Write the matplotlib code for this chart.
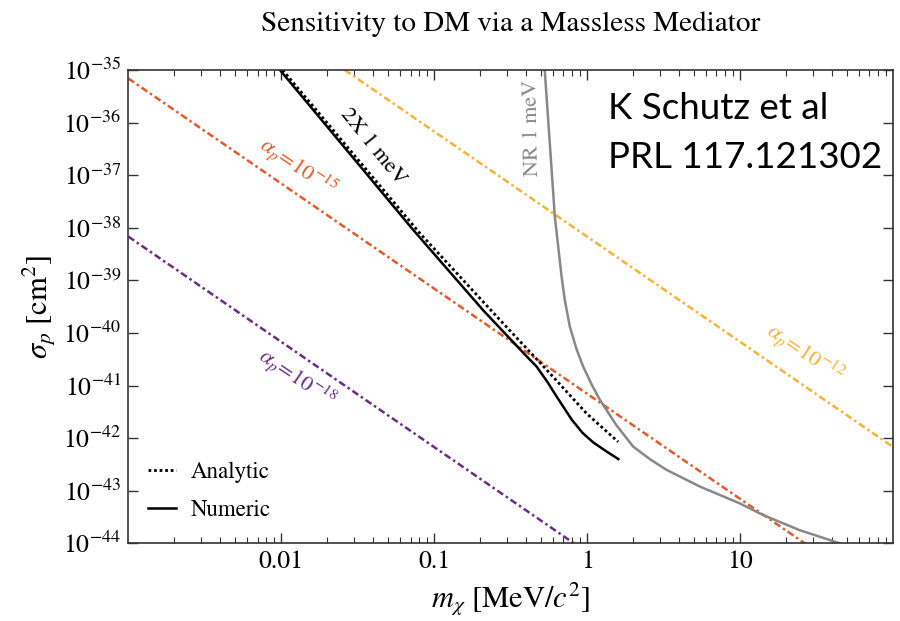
import numpy as np
import matplotlib
matplotlib.use("Agg")
import matplotlib.pyplot as plt
from matplotlib.ticker import LogLocator, NullLocator, FixedLocator, FixedFormatter

plt.rcParams['mathtext.fontset'] = 'stix'
plt.rcParams['font.family'] = ['STIXGeneral', 'DejaVu Serif']

# ---- data ----
# alpha_p reference lines (endpoints)
alpha12_m = [0.026, 100.0]
alpha12_s = [1.0e-35, 6.8e-43]
alpha15_m = [0.001, 26.5]
alpha15_s = [6.9e-36, 1.0e-44]
alpha18_m = [0.001, 0.82]
alpha18_s = [6.8e-39, 1.0e-44]

# 2X 1 meV analytic (dotted)
analytic_m = [0.0102, 0.0805, 0.2685, 0.543, 0.991, 1.596]
analytic_s = [1.0e-35, 7.9e-39, 1.78e-40, 2.0e-41, 2.95e-42, 8.5e-43]

# 2X 1 meV numeric (solid)
numeric_m = [0.0098, 0.0303, 0.0729, 0.209, 0.398, 0.467, 0.55, 0.631, 0.794, 0.933, 1.096, 1.318, 1.60]
numeric_s = [1.0e-35, 1.95e-37, 9.1e-39, 2.7e-40, 3.7e-41, 2.3e-41, 1.17e-41, 6.2e-42, 2.24e-42,
             1.26e-42, 8.3e-43, 5.75e-43, 4.0e-43]

# NR 1 meV (gray)
nr_m = [0.528, 0.570, 0.615, 0.681, 0.714, 0.771, 0.851, 0.942, 1.07, 1.211, 1.55, 2.0, 2.6, 3.30,
        5.46, 9.95, 14.1, 24.5, 44.9]
nr_s = [1.0e-35, 4.07e-37, 1.62e-38, 1.17e-39, 4.27e-40, 1.32e-40, 5.0e-41, 2.29e-41, 1.05e-41,
        5.37e-42, 1.78e-42, 6.9e-43, 3.9e-43, 2.5e-43, 1.2e-43, 5.75e-44, 3.47e-44, 1.78e-44, 1.0e-44]

xticks = [0.01, 0.1, 1, 10]
xticklabels = ['0.01', '0.1', '1', '10']
yticks = [10.0 ** e for e in range(-44, -34)]
yticklabels = [r'$10^{%d}$' % e for e in range(-44, -34)]

# ---- figure ----
fig = plt.figure(figsize=(9, 6.21), dpi=100)
ax = fig.add_axes([0.1426, 0.1251, 0.8496, 0.7622])
ax.set_xscale('log')
ax.set_yscale('log')
ax.set_xlim(1e-3, 100)
ax.set_ylim(1e-44, 1e-35)

dashdot = (0, (2.8, 1.3, 1.0, 1.3))
c_or = '#E35A2A'
c_ye = '#F9B233'
c_pu = '#6A2C86'
c_gr = '#888888'

ax.plot(alpha12_m, alpha12_s, color=c_ye, lw=1.8, linestyle=dashdot)
ax.plot(alpha15_m, alpha15_s, color=c_or, lw=1.8, linestyle=dashdot)
ax.plot(alpha18_m, alpha18_s, color=c_pu, lw=1.8, linestyle=dashdot)
ax.plot(nr_m, nr_s, color=c_gr, lw=1.8, solid_joinstyle='round')
ax.plot(analytic_m, analytic_s, color='black', lw=2.0, linestyle=(0, (1, 1)), label='Analytic')
ax.plot(numeric_m, numeric_s, color='black', lw=1.8, solid_joinstyle='round', label='Numeric')

# tick setup
ax.xaxis.set_major_locator(FixedLocator(xticks))
ax.xaxis.set_major_formatter(FixedFormatter(xticklabels))
ax.xaxis.set_minor_locator(LogLocator(base=10, subs=np.arange(2, 10), numticks=20))
ax.yaxis.set_major_locator(FixedLocator(yticks))
ax.yaxis.set_major_formatter(FixedFormatter(yticklabels))
ax.yaxis.set_minor_locator(NullLocator())
ax.tick_params(which='both', direction='in', top=True, right=True, color='#333333')
ax.tick_params(which='major', length=7, width=1.0, labelsize=18.5, pad=5)
ax.tick_params(which='minor', length=4, width=0.8)
for s in ax.spines.values():
    s.set_color('#333333')
    s.set_linewidth(1.2)

ax.set_xlabel(r'$m_\chi\ [\mathrm{MeV}/c^2]$', fontsize=22, labelpad=5)
ax.set_ylabel(r'$\sigma_p\ [\mathrm{cm}^2]$', fontsize=22, labelpad=4)
ax.set_title('Sensitivity to DM via a Massless Mediator', fontsize=21, pad=28)

# line labels
ax.text(0.0397, 3.5e-37, '2X 1 meV', rotation=-51, rotation_mode='anchor',
        ha='center', va='center', fontsize=16, color='black')
ax.text(0.435, 7.9e-37, 'NR 1 meV', rotation=91, rotation_mode='anchor',
        ha='center', va='center', fontsize=16, color=c_gr)
ax.text(0.01285, 1.44e-37, r'$\alpha_p\!=\!10^{-15}$', rotation=-34, rotation_mode='anchor',
        ha='center', va='center', fontsize=16, color=c_or)
ax.text(0.01268, 1.38e-41, r'$\alpha_p\!=\!10^{-18}$', rotation=-34, rotation_mode='anchor',
        ha='center', va='center', fontsize=16, color=c_pu)
ax.text(26.9, 4.17e-41, r'$\alpha_p\!=\!10^{-12}$', rotation=-34, rotation_mode='anchor',
        ha='center', va='center', fontsize=16, color=c_ye)

# citation
ax.text(0.627, 0.954, 'K Schutz et al', transform=ax.transAxes, ha='left', va='top',
        fontsize=26.5, family=['Lato', 'DejaVu Sans'])
ax.text(0.627, 0.849, 'PRL 117.121302', transform=ax.transAxes, ha='left', va='top',
        fontsize=26.5, family=['Lato', 'DejaVu Sans'])

ax.legend(loc='lower left', bbox_to_anchor=(0.014, 0.027), borderaxespad=0, frameon=False,
          fontsize=16.5, handlelength=1.2, handletextpad=0.65, labelspacing=0.75)

fig.savefig('out.png', dpi=100)
